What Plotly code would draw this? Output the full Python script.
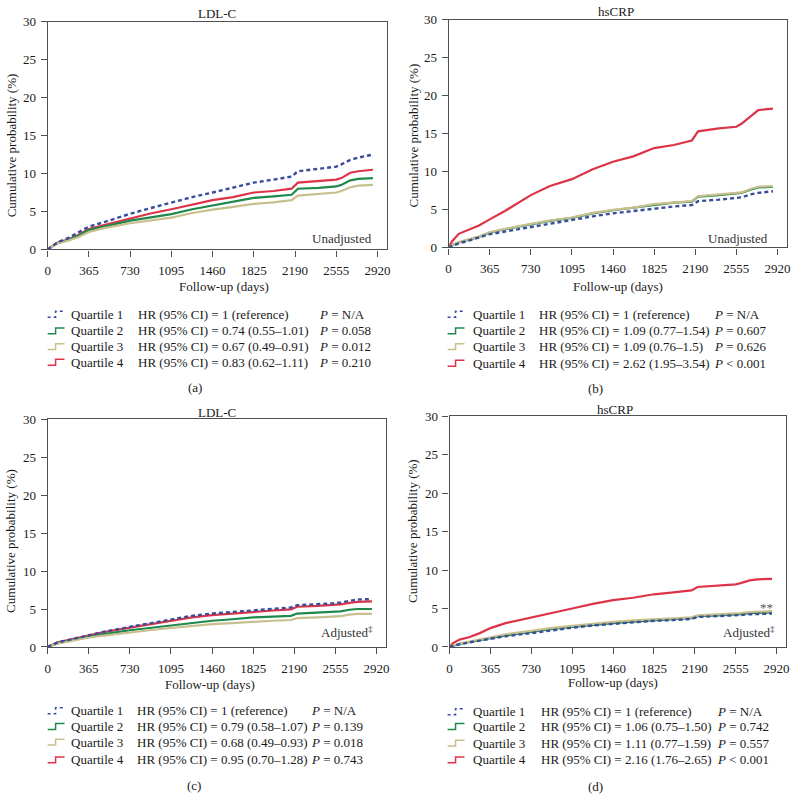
import plotly.graph_objects as go

W, H = 793, 812

# ---------------- data ----------------
days = [0, 30, 90, 180, 270, 365, 500, 730, 900, 1095, 1280, 1460, 1640, 1825,
        2000, 2160, 2215, 2400, 2555, 2600, 2680, 2750, 2880]

# (a) LDL-C unadjusted
ldl_unadj_q1 = [0, 0.35, 0.95, 1.5, 2.2, 3.0, 3.6, 4.7, 5.4, 6.2, 6.9, 7.5, 8.1, 8.8, 9.2, 9.6, 10.3, 10.6, 10.9, 11.2, 11.8, 12.1, 12.5]
ldl_unadj_q2 = [0, 0.3, 0.85, 1.25, 1.8, 2.55, 3.0, 3.8, 4.2, 4.65, 5.3, 5.8, 6.2, 6.8, 7.0, 7.2, 8.0, 8.1, 8.3, 8.5, 9.1, 9.3, 9.4]
ldl_unadj_q3 = [0, 0.3, 0.8, 1.15, 1.6, 2.3, 2.8, 3.45, 3.8, 4.2, 4.8, 5.25, 5.6, 6.0, 6.2, 6.5, 7.1, 7.3, 7.5, 7.7, 8.2, 8.4, 8.5]
ldl_unadj_q4 = [0, 0.35, 0.9, 1.3, 1.9, 2.7, 3.2, 4.1, 4.7, 5.3, 5.9, 6.5, 6.9, 7.5, 7.7, 8.0, 8.8, 9.0, 9.2, 9.4, 10.1, 10.3, 10.5]

# (b) hsCRP unadjusted
crp_unadj_q1 = [0, 0.2, 0.55, 0.9, 1.3, 1.75, 2.1, 2.7, 3.2, 3.65, 4.1, 4.5, 4.8, 5.2, 5.4, 5.6, 6.1, 6.3, 6.5, 6.6, 7.0, 7.2, 7.4]
crp_unadj_q2 = [0, 0.3, 0.65, 1.0, 1.4, 1.95, 2.4, 3.05, 3.5, 3.9, 4.5, 4.9, 5.2, 5.6, 5.9, 6.05, 6.7, 6.9, 7.1, 7.2, 7.6, 7.9, 8.0]
crp_unadj_q3 = [0, 0.3, 0.7, 1.05, 1.45, 2.0, 2.45, 3.1, 3.55, 3.95, 4.55, 4.95, 5.25, 5.7, 5.95, 6.1, 6.75, 6.95, 7.15, 7.25, 7.7, 8.0, 8.1]
crp_unadj_q4 = [0, 0.8, 1.8, 2.4, 2.9, 3.7, 4.8, 6.9, 8.1, 9.0, 10.3, 11.3, 12.0, 13.1, 13.5, 14.1, 15.3, 15.7, 15.9, 16.3, 17.2, 18.1, 18.3]

# (c) LDL-C adjusted
ldl_adj_q1 = [0, 0.2, 0.6, 0.9, 1.2, 1.6, 2.0, 2.65, 3.1, 3.6, 4.1, 4.4, 4.6, 4.9, 5.05, 5.2, 5.5, 5.6, 5.75, 5.85, 6.1, 6.25, 6.3]
ldl_adj_q2 = [0, 0.2, 0.5, 0.8, 1.05, 1.4, 1.7, 2.2, 2.5, 2.85, 3.2, 3.45, 3.65, 3.9, 4.0, 4.1, 4.4, 4.5, 4.6, 4.7, 4.9, 5.0, 5.0]
ldl_adj_q3 = [0, 0.15, 0.45, 0.7, 0.95, 1.25, 1.5, 1.95, 2.2, 2.5, 2.8, 3.0, 3.15, 3.35, 3.45, 3.55, 3.8, 3.9, 4.0, 4.05, 4.25, 4.35, 4.35]
ldl_adj_q4 = [0, 0.2, 0.6, 0.9, 1.2, 1.55, 1.95, 2.55, 2.95, 3.4, 3.9, 4.2, 4.4, 4.7, 4.8, 4.95, 5.3, 5.4, 5.5, 5.6, 5.8, 5.95, 6.0]

# (d) hsCRP adjusted
crp_adj_q1 = [0, 0.15, 0.35, 0.6, 0.85, 1.1, 1.4, 1.8, 2.15, 2.5, 2.8, 3.0, 3.2, 3.4, 3.5, 3.65, 3.9, 4.0, 4.1, 4.15, 4.25, 4.3, 4.35]
crp_adj_q2 = [0, 0.15, 0.4, 0.65, 0.9, 1.2, 1.5, 1.95, 2.3, 2.6, 2.9, 3.1, 3.3, 3.5, 3.6, 3.75, 4.0, 4.1, 4.2, 4.25, 4.4, 4.45, 4.5]
crp_adj_q3 = [0, 0.2, 0.45, 0.7, 1.0, 1.3, 1.65, 2.1, 2.45, 2.75, 3.05, 3.25, 3.45, 3.6, 3.75, 3.85, 4.1, 4.2, 4.35, 4.4, 4.55, 4.6, 4.65]
crp_adj_q4 = [0, 0.5, 0.95, 1.3, 1.8, 2.45, 3.1, 3.8, 4.4, 5.0, 5.6, 6.1, 6.4, 6.85, 7.1, 7.35, 7.8, 7.95, 8.15, 8.3, 8.65, 8.8, 8.85]

x_ticks = [0, 365, 730, 1095, 1460, 1825, 2190, 2555, 2920]
y_ticks = [0, 5, 10, 15, 20, 25, 30]

panel_titles = ["LDL-C", "hsCRP", "LDL-C", "hsCRP"]
panel_letters = ["(a)", "(b)", "(c)", "(d)"]
panel_notes = ["Unadjusted", "Unadjusted", "Adjusted<sup>‡</sup>", "Adjusted<sup>‡</sup>"]
quartile_labels = ["Quartile 1", "Quartile 2", "Quartile 3", "Quartile 4"]

hr_a = ["HR (95% CI) = 1 (reference)", "HR (95% CI) = 0.74 (0.55–1.01)",
        "HR (95% CI) = 0.67 (0.49–0.91)", "HR (95% CI) = 0.83 (0.62–1.11)"]
p_a = ["N/A", "0.058", "0.012", "0.210"]
hr_b = ["HR (95% CI) = 1 (reference)", "HR (95% CI) = 1.09 (0.77–1.54)",
        "HR (95% CI) = 1.09 (0.76–1.5)", "HR (95% CI) = 2.62 (1.95–3.54)"]
p_b = ["= N/A", "= 0.607", "= 0.626", "< 0.001"]
hr_c = ["HR (95% CI) = 1 (reference)", "HR (95% CI) = 0.79 (0.58–1.07)",
        "HR (95% CI) = 0.68 (0.49–0.93)", "HR (95% CI) = 0.95 (0.70–1.28)"]
p_c = ["N/A", "0.139", "0.018", "0.743"]
hr_d = ["HR (95% CI) = 1 (reference)", "HR (95% CI) = 1.06 (0.75–1.50)",
        "HR (95% CI) = 1.11 (0.77–1.59)", "HR (95% CI) = 2.16 (1.76–2.65)"]
p_d = ["= N/A", "= 0.742", "= 0.557", "< 0.001"]

# ---------------- styles ----------------
FONT = "Liberation Serif"
TXT = "#1a1a1a"
AX = "#505050"
colors = ["#3a4d9c", "#1d8a4c", "#c9bf8e", "#dd3348"]
dashes = ["4px,3px", "solid", "solid", "solid"]


def px(x):
    return x / W


def py(y):
    return 1 - y / H


panels = [
    dict(series=[ldl_unadj_q1, ldl_unadj_q2, ldl_unadj_q3, ldl_unadj_q4],
         dom=(45, 387, 15, 247), hr=hr_a, p=["= " + v for v in p_a]),
    dict(series=[crp_unadj_q1, crp_unadj_q2, crp_unadj_q3, crp_unadj_q4],
         dom=(449, 790, 13, 245), hr=hr_b, p=p_b),
    dict(series=[ldl_adj_q1, ldl_adj_q2, ldl_adj_q3, ldl_adj_q4],
         dom=(45, 386, 420, 652), hr=hr_c, p=["= " + v for v in p_c]),
    dict(series=[crp_adj_q1, crp_adj_q2, crp_adj_q3, crp_adj_q4],
         dom=(450, 789, 417, 652), hr=hr_d, p=p_d),
]

# text placement (pixels)
title_pos = [(216, 7), (618, 5), (216, 413), (617, 410)]
xtitle_pos = [(223, 285), (620, 285), (209, 690), (615, 688)]
ytitle_pos = [(8, 141), (414, 131), (8, 544), (412, 534)]
note_pos = [(374, 236), (773, 236), (375, 637), (780, 637)]
legend_rows = [[313, 330, 346, 362], [313, 330, 346, 363],
               [717, 733, 749, 767], [718, 733, 750, 767]]
legend_cols = [(45, 67, 134, 316), (448, 472, 538, 714),
               (45, 67, 133, 308), (448, 472, 540, 717)]
letter_pos = [(193, 388), (597, 389), (192, 793), (597, 794)]

fig = go.Figure()
layout_axes = {}
annotations = []
shapes = []
draw_order = [3, 1, 2, 0]

for i, pn in enumerate(panels):
    n = "" if i == 0 else str(i + 1)
    x0, x1, y0, y1 = pn["dom"]
    for q in draw_order:
        fig.add_trace(go.Scatter(
            x=days, y=pn["series"][q], mode="lines",
            line=dict(color=colors[q], width=2.2 if q else 2.4, dash=dashes[q]),
            xaxis="x" + n, yaxis="y" + n, showlegend=False, hoverinfo="skip"))
    common = dict(showline=True, linecolor=AX, linewidth=1.2, mirror=True,
                  ticks="outside", ticklen=6, tickwidth=1.2, tickcolor=AX,
                  showgrid=False, zeroline=False,
                  tickfont=dict(family=FONT, size=13, color=TXT))
    layout_axes["xaxis" + n] = dict(common, domain=[px(x0), px(x1)], range=[0, 3005],
                                    tickvals=x_ticks, anchor="y" + n,
                                    ticklabelstandoff=3)
    layout_axes["yaxis" + n] = dict(common, domain=[py(y1), py(y0)], range=[0, 30],
                                    tickvals=y_ticks, anchor="x" + n,
                                    ticklabelstandoff=2)

    def ann(text, x, y, xanchor="center", size=13, angle=0, color=TXT):
        annotations.append(dict(text=text, x=px(x), y=py(y), xref="paper", yref="paper",
                                xanchor=xanchor, yanchor="middle", showarrow=False,
                                textangle=angle,
                                font=dict(family=FONT, size=size, color=color)))

    ann(panel_titles[i], *title_pos[i])
    ann("Follow-up (days)", *xtitle_pos[i])
    ann("Cumulative probability (%)", *ytitle_pos[i], angle=-90)
    ann(panel_notes[i], *note_pos[i], xanchor="right", color="#333333")
    ann(panel_letters[i], *letter_pos[i])

    sx, qx, hx, pxx = legend_cols[i]
    for q in range(4):
        ry = legend_rows[i][q]
        ann(quartile_labels[q], qx, ry, xanchor="left")
        ann(pn["hr"][q], hx, ry, xanchor="left")
        ann("<i>P</i> " + pn["p"][q], pxx, ry, xanchor="left")
        path = "M {a},{b} L {c},{b} L {c},{d} L {e},{d}".format(
            a=px(sx), b=py(ry + 3), c=px(sx + 8), d=py(ry - 3), e=px(sx + 17))
        shapes.append(dict(type="path", path=path, xref="paper", yref="paper",
                           line=dict(color=colors[q], width=1.5,
                                     dash="dot" if q == 0 else "solid")))

# "**" marker in panel d
annotations.append(dict(text="**", x=px(769), y=py(612), xref="paper", yref="paper",
                        xanchor="center", yanchor="middle", showarrow=False,
                        font=dict(family=FONT, size=13, color="#555555")))

fig.update_layout(
    width=W, height=H, margin=dict(l=0, r=0, t=0, b=0),
    paper_bgcolor="white", plot_bgcolor="white",
    showlegend=False, annotations=annotations, shapes=shapes,
    **layout_axes)

fig.write_html("out.html",
               config={"displayModeBar": False},
               post_script="document.body.style.margin='0';"
                           "document.body.style.overflow='hidden';")
